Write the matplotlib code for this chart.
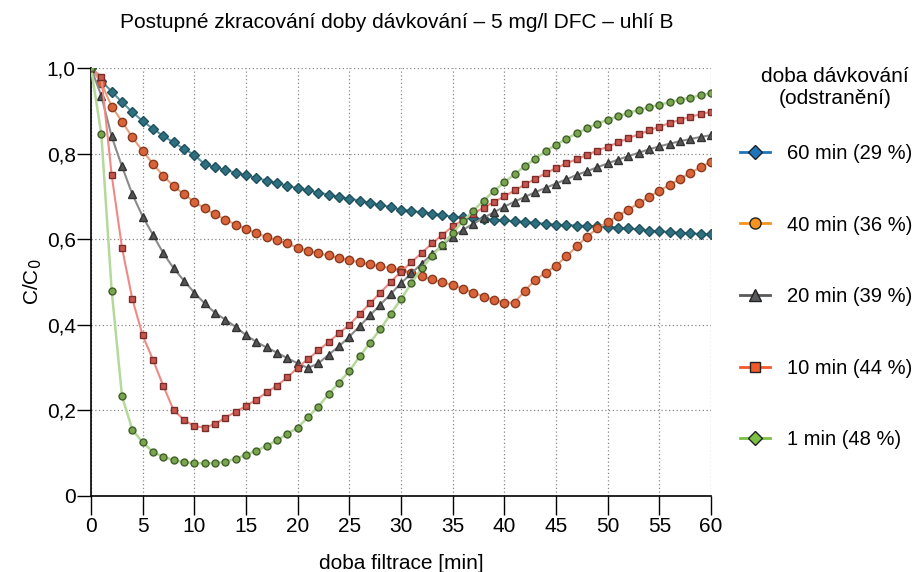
import matplotlib
matplotlib.use("Agg")
import matplotlib.pyplot as plt
from matplotlib.lines import Line2D

plt.rcParams['font.family'] = ['Liberation Sans', 'DejaVu Sans']

# doba filtrace [min]
t = list(range(0, 61))

# C/C0 for each dosing time
c60 = [1.0, 0.97, 0.945, 0.92, 0.897, 0.876, 0.858, 0.841, 0.826, 0.811,
       0.797, 0.775, 0.768, 0.762, 0.755, 0.749, 0.743, 0.737, 0.731, 0.725,
       0.719, 0.714, 0.709, 0.704, 0.699, 0.695, 0.69, 0.685, 0.68, 0.675,
       0.669, 0.666, 0.663, 0.66, 0.656, 0.653, 0.651, 0.649, 0.647, 0.645,
       0.644, 0.642, 0.64, 0.638, 0.636, 0.634, 0.633, 0.632, 0.631, 0.63,
       0.629, 0.627, 0.625, 0.623, 0.62, 0.618, 0.617, 0.615, 0.614, 0.612, 0.611]
c40 = [1.0, 0.965, 0.91, 0.875, 0.838, 0.806, 0.776, 0.748, 0.724, 0.705,
       0.687, 0.672, 0.658, 0.646, 0.634, 0.624, 0.614, 0.605, 0.597, 0.59,
       0.58, 0.573, 0.567, 0.562, 0.556, 0.551, 0.546, 0.541, 0.537, 0.532,
       0.528, 0.521, 0.513, 0.506, 0.499, 0.493, 0.484, 0.475, 0.466, 0.458,
       0.452, 0.452, 0.48, 0.505, 0.522, 0.538, 0.56, 0.583, 0.606, 0.625,
       0.64, 0.655, 0.669, 0.684, 0.699, 0.713, 0.727, 0.741, 0.755, 0.768, 0.781]
c20 = [1.0, 0.935, 0.84, 0.77, 0.705, 0.653, 0.61, 0.567, 0.532, 0.503,
       0.475, 0.45, 0.428, 0.412, 0.395, 0.376, 0.36, 0.347, 0.335, 0.322,
       0.31, 0.299, 0.31, 0.33, 0.35, 0.372, 0.397, 0.422, 0.447, 0.472,
       0.497, 0.52, 0.543, 0.565, 0.586, 0.606, 0.622, 0.636, 0.65, 0.663,
       0.676, 0.688, 0.699, 0.71, 0.72, 0.73, 0.74, 0.75, 0.759, 0.768,
       0.777, 0.786, 0.794, 0.802, 0.81, 0.817, 0.823, 0.829, 0.834, 0.839, 0.843]
c10 = [1.0, 0.98, 0.75, 0.58, 0.46, 0.375, 0.318, 0.257, 0.2, 0.178,
       0.163, 0.16, 0.168, 0.183, 0.197, 0.21, 0.225, 0.242, 0.258, 0.277,
       0.3, 0.32, 0.34, 0.36, 0.38, 0.4, 0.425, 0.45, 0.475, 0.5,
       0.524, 0.546, 0.568, 0.59, 0.61, 0.63, 0.645, 0.66, 0.674, 0.687,
       0.7, 0.714, 0.728, 0.741, 0.754, 0.766, 0.777, 0.787, 0.797, 0.807,
       0.816, 0.826, 0.836, 0.845, 0.854, 0.863, 0.871, 0.879, 0.886, 0.892, 0.898]
c1 = [1.0, 0.845, 0.48, 0.233, 0.155, 0.125, 0.103, 0.091, 0.084, 0.079,
      0.077, 0.076, 0.077, 0.08, 0.087, 0.096, 0.106, 0.117, 0.13, 0.145,
      0.16, 0.184, 0.209, 0.238, 0.265, 0.292, 0.326, 0.358, 0.39, 0.425,
      0.46, 0.497, 0.532, 0.56, 0.587, 0.615, 0.642, 0.667, 0.69, 0.713,
      0.733, 0.752, 0.771, 0.788, 0.806, 0.82, 0.835, 0.847, 0.859, 0.87,
      0.879, 0.887, 0.895, 0.902, 0.908, 0.914, 0.92, 0.926, 0.931, 0.936, 0.941]

labels = ['60 min (29 %)', '40 min (36 %)', '20 min (39 %)', '10 min (44 %)', '1 min (48 %)']

fig = plt.figure(figsize=(9.23, 5.72), dpi=100)
ax = fig.add_axes([0.0986, 0.1329, 0.6717, 0.7482])

# plot lines (colours as they look in the scan)
ax.plot(t, c60, color='#5a93a3', lw=1.5, marker='D', ms=5, mfc='#2e6f80', mec='#1f4f5c', zorder=3)
ax.plot(t, c40, color='#e6a07a', lw=1.5, marker='o', ms=6, mfc='#d9643a', mec='#8a3a1e', zorder=3)
ax.plot(t, c20, color='#8a8a8a', lw=1.5, marker='^', ms=6, mfc='#555555', mec='#333333', zorder=3)
ax.plot(t, c10, color='#ee8a85', lw=1.5, marker='s', ms=5, mfc='#c9574f', mec='#7a2e2a', zorder=4)
ax.plot(t, c1, color='#b5d99a', lw=1.8, marker='o', ms=5, mfc='#7aa54e', mec='#3f5f2a', zorder=5)

ax.set_xlim(0, 60)
ax.set_ylim(0, 1.0)
ax.set_xticks(range(0, 61, 5))
ax.set_yticks([0, 0.2, 0.4, 0.6, 0.8, 1.0])
ax.set_yticklabels(['0', '0,2', '0,4', '0,6', '0,8', '1,0'])
ax.grid(True, linestyle=(0, (1, 2)), color='#888888', lw=0.9)
ax.spines['top'].set_visible(False)
ax.spines['right'].set_visible(False)
ax.spines['left'].set_linewidth(1.2)
ax.spines['bottom'].set_linewidth(1.2)
ax.tick_params(axis='x', length=14, width=1.0, labelsize=15, pad=1)
ax.tick_params(axis='y', length=10, width=1.0, labelsize=15, pad=1)
ax.set_xlabel('doba filtrace [min]', fontsize=15, labelpad=13)
ax.set_ylabel('C/C$_0$', fontsize=15, labelpad=2)
fig.text(0.430, 0.9615, 'Postupné zkracování doby dávkování – 5 mg/l DFC – uhlí B',
         ha='center', va='center', fontsize=15)

# legend title
fig.text(0.9046, 0.847, 'doba dávkování\n(odstranění)', ha='center', va='center',
         multialignment='center', fontsize=15)

# legend with clean colours
handles = [
    Line2D([], [], color='#1f75bb', lw=2, marker='D', ms=7, mfc='#1f75bb', mec='#222222'),
    Line2D([], [], color='#f7941d', lw=2, marker='o', ms=8, mfc='#f7941d', mec='#222222'),
    Line2D([], [], color='#58595b', lw=2, marker='^', ms=8, mfc='#58595b', mec='#222222'),
    Line2D([], [], color='#f15a29', lw=2, marker='s', ms=7, mfc='#f15a29', mec='#222222'),
    Line2D([], [], color='#7ac143', lw=2, marker='D', ms=7, mfc='#7ac143', mec='#222222'),
]
fig.legend(handles, labels, loc='upper left', bbox_to_anchor=(0.782, 0.780),
           frameon=False, fontsize=14.5, handlelength=1.5, handletextpad=0.85,
           labelspacing=2.61)

fig.savefig('out.png', dpi=100)
